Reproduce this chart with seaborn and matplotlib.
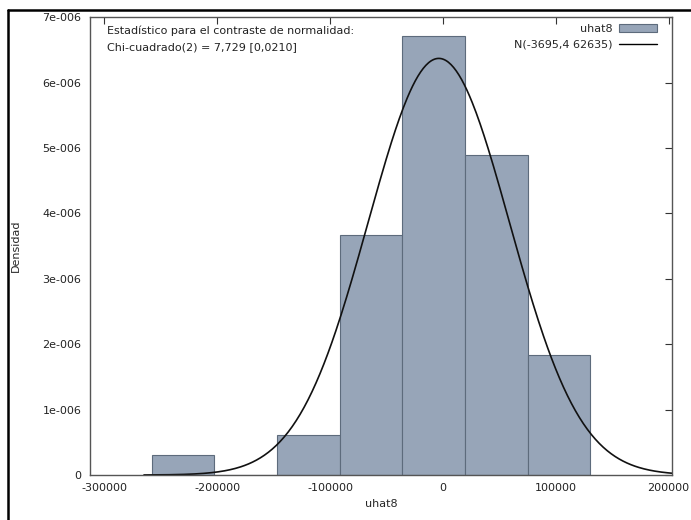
import numpy as np
import pandas as pd
import seaborn as sns
import matplotlib.pyplot as plt
from matplotlib.ticker import FuncFormatter
from matplotlib.patches import Patch
from matplotlib.lines import Line2D

# Histogram of residuals (uhat8), counts per bin
bin_edges = [-258000, -202500, -147000, -91500, -36000, 19500, 75000, 130500]
bin_counts = [1, 0, 2, 12, 22, 16, 6]

# Fitted normal from the legend
norm_mean = -3695.4
norm_sd = 62635

x_ticks = [-300000, -200000, -100000, 0, 100000, 200000]
y_ticks = [0, 1e-6, 2e-6, 3e-6, 4e-6, 5e-6, 6e-6, 7e-6]

centers = [(a + b) / 2 for a, b in zip(bin_edges[:-1], bin_edges[1:])]
hist_df = pd.DataFrame({"uhat8": centers, "n": bin_counts})

grid = np.linspace(-265000, 203000, 400)
pdf = np.exp(-0.5 * ((grid - norm_mean) / norm_sd) ** 2) / (norm_sd * np.sqrt(2 * np.pi))
curve_df = pd.DataFrame({"x": grid, "y": pdf})

sns.set_style("white")
plt.rcParams["font.family"] = ["DejaVu Sans"]
plt.rcParams["font.size"] = 8

fig = plt.figure(figsize=(6.91, 5.2), dpi=100)
ax = fig.add_axes([0.130, 0.0865, 0.8425, 0.8805])

bar_color = "#97a5b8"
edge_color = "#5d6b7c"
sns.histplot(data=hist_df, x="uhat8", weights="n", bins=bin_edges, stat="density",
             color=bar_color, edgecolor=edge_color, linewidth=0.8, alpha=1, ax=ax)
sns.lineplot(data=curve_df, x="x", y="y", color="#111111", linewidth=1.2, ax=ax)

ax.set_xlim(-313000, 203000)
ax.set_ylim(0, 7e-6)
ax.set_xticks(x_ticks)
ax.set_yticks(y_ticks)
ax.xaxis.set_major_formatter(FuncFormatter(lambda v, p: f"{int(v)}"))
ax.yaxis.set_major_formatter(FuncFormatter(lambda v, p: "0" if v == 0 else f"{int(round(v * 1e6))}e-006"))
ax.tick_params(direction="in", length=5, width=0.8, top=True, right=True,
               labelsize=8, colors="#333333", pad=6)
ax.tick_params(axis="both", labelcolor="#222222")
for s in ax.spines.values():
    s.set_color("#555555")
    s.set_linewidth(1.0)

ax.set_xlabel("uhat8", fontsize=8, labelpad=4)
ax.set_ylabel("Densidad", fontsize=8, labelpad=2)
ax.yaxis.set_label_coords(-0.118, 0.5)

ax.text(0.029, 0.981, "Estadístico para el contraste de normalidad:\nChi-cuadrado(2) = 7,729 [0,0210]",
        transform=ax.transAxes, va="top", ha="left", fontsize=8, linespacing=1.75, color="#222222")

handles = [Patch(facecolor=bar_color, edgecolor=edge_color, linewidth=0.8),
           Line2D([0], [0], color="black", linewidth=1.0)]
ax.legend(handles, ["uhat8", "N(-3695,4 62635)"], loc="upper right", frameon=False,
          markerfirst=False, handlelength=3.4, handleheight=0.8, fontsize=8,
          borderaxespad=0.2, labelspacing=0.5, handletextpad=0.6,
          bbox_to_anchor=(0.985, 1.0))

# screenshot frame
fig.add_artist(Line2D([8 / 691, 1], [1 - 10 / 520, 1 - 10 / 520], color="black", linewidth=1.8,
                      transform=fig.transFigure))
fig.add_artist(Line2D([8 / 691, 8 / 691], [0, 1 - 10 / 520], color="black", linewidth=1.8,
                      transform=fig.transFigure))

fig.savefig("out.png", dpi=100)
